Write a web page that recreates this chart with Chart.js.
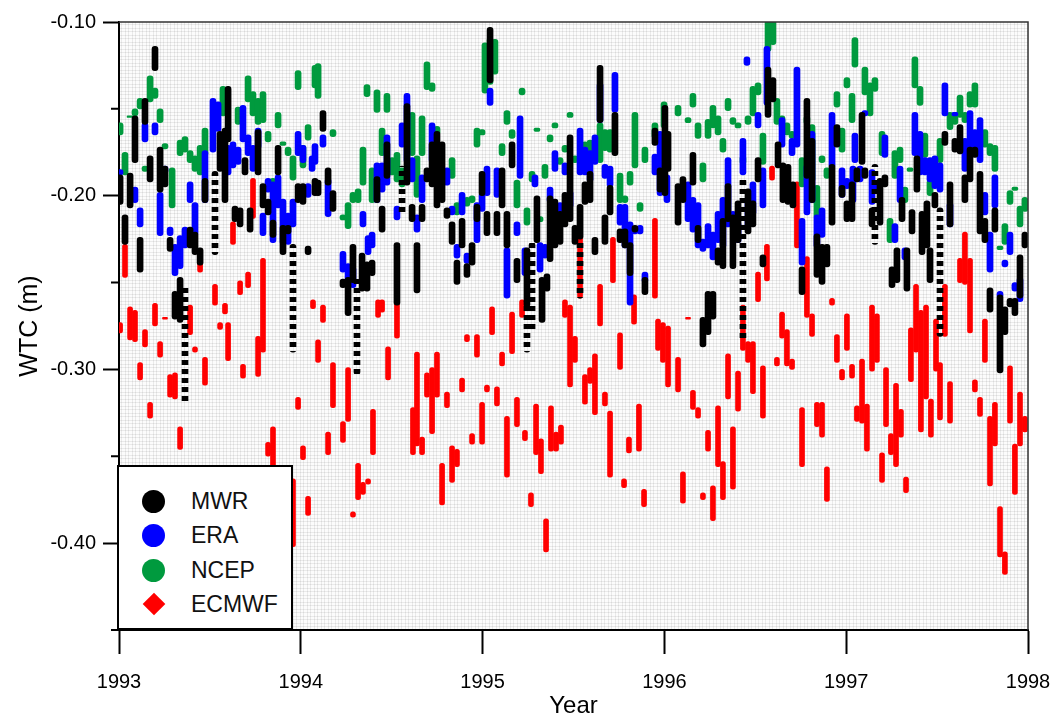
<!DOCTYPE html>
<html lang="en">
<head>
  <meta charset="UTF-8" />
  <title>WTC 1993-1998</title>
  <script src="https://cdn.jsdelivr.net/npm/chart.js"></script>
  <style>
    body { margin: 0; background: #fff; font-family: "Liberation Sans", Arial, sans-serif; }
    .wrap { position: relative; width: 1052px; height: 718px; }
    .legend { position: absolute; left: 117px; top: 465px; width: 172px; height: 161px; border: 2px solid #000; background: #fff; }
    .item { position: absolute; left: 0; height: 24px; display: flex; align-items: center; font-size: 23px; color: #111; }
    .mark { position: absolute; left: 23px; width: 23px; height: 23px; border-radius: 50%; }
    .diamond { left: 27px; width: 16px; height: 16px; border-radius: 0; transform: rotate(45deg); }
    .label { position: absolute; left: 72px; white-space: nowrap; }
  </style>
</head>
<body>
  <div class="wrap">
    <canvas id="wtc" width="1052" height="718"></canvas>
    <div class="legend">
      <div class="item" style="top:22px"><span class="mark" style="background:#000"></span><span class="label">MWR</span></div>
      <div class="item" style="top:56px"><span class="mark" style="background:#0000ff"></span><span class="label">ERA</span></div>
      <div class="item" style="top:91px"><span class="mark" style="background:#009a3e"></span><span class="label">NCEP</span></div>
      <div class="item" style="top:125px"><span class="mark diamond" style="background:#ff0000"></span><span class="label">ECMWF</span></div>
    </div>
  </div>
  <script>
    // axis ticks
    const years = [1993, 1994, 1995, 1996, 1997, 1998];
    const yMajor = [-0.10, -0.20, -0.30, -0.40];
    const yMinor = [-0.15, -0.25, -0.35, -0.45];

    // each streak: [year, top value, bottom value] in metres
    const mwr = [
      [1993.006,-0.188,-0.205],[1993.033,-0.211,-0.228],[1993.061,-0.187,-0.207],[1993.088,-0.154,-0.181],
      [1993.116,-0.224,-0.244],[1993.143,-0.144,-0.159],[1993.171,-0.177,-0.192],[1993.198,-0.114,-0.128],
      [1993.226,-0.172,-0.198],[1993.253,-0.183,-0.195],[1993.281,-0.224,-0.232],[1993.308,-0.255,-0.271],
      [1993.336,-0.247,-0.273],[1993.391,-0.218,-0.230],[1993.418,-0.221,-0.234],[1993.446,-0.230,-0.240],
      [1993.473,-0.190,-0.204],[1993.556,-0.163,-0.186],[1993.583,-0.161,-0.204],[1993.600,-0.137,-0.169],
      [1993.638,-0.206,-0.215],[1993.666,-0.207,-0.218],[1993.693,-0.178,-0.188],[1993.721,-0.207,-0.221],
      [1993.765,-0.162,-0.188],[1993.792,-0.193,-0.207],[1993.820,-0.202,-0.211],[1993.847,-0.214,-0.224],
      [1993.875,-0.171,-0.188],[1993.902,-0.217,-0.234],[1993.930,-0.217,-0.222],[1993.985,-0.193,-0.204],
      [1994.012,-0.193,-0.205],[1994.040,-0.229,-0.234],[1994.078,-0.190,-0.200],[1994.095,-0.191,-0.200],
      [1994.122,-0.151,-0.163],[1994.150,-0.184,-0.194],[1994.177,-0.197,-0.209],[1994.232,-0.248,-0.253],
      [1994.260,-0.247,-0.269],[1994.287,-0.228,-0.250],[1994.337,-0.233,-0.255],[1994.364,-0.238,-0.255],
      [1994.392,-0.237,-0.246],[1994.419,-0.189,-0.204],[1994.447,-0.206,-0.221],[1994.474,-0.169,-0.190],
      [1994.529,-0.227,-0.263],[1994.584,-0.147,-0.194],[1994.612,-0.205,-0.215],[1994.639,-0.227,-0.256],
      [1994.667,-0.205,-0.215],[1994.694,-0.184,-0.192],[1994.722,-0.169,-0.195],[1994.749,-0.163,-0.207],
      [1994.777,-0.169,-0.204],[1994.804,-0.207,-0.213],[1994.832,-0.215,-0.228],[1994.859,-0.237,-0.251],
      [1994.887,-0.213,-0.230],[1994.914,-0.239,-0.247],[1994.942,-0.227,-0.240],[1994.969,-0.205,-0.215],
      [1994.997,-0.186,-0.200],[1995.024,-0.209,-0.223],[1995.041,-0.103,-0.135],[1995.079,-0.209,-0.223],
      [1995.107,-0.184,-0.207],[1995.134,-0.209,-0.230],[1995.162,-0.169,-0.184],[1995.189,-0.236,-0.250],
      [1995.244,-0.230,-0.264],[1995.299,-0.200,-0.227],[1995.327,-0.247,-0.273],[1995.354,-0.245,-0.255],
      [1995.371,-0.200,-0.238],[1995.398,-0.202,-0.230],[1995.426,-0.209,-0.228],[1995.453,-0.198,-0.218],
      [1995.481,-0.165,-0.215],[1995.508,-0.217,-0.228],[1995.536,-0.205,-0.225],[1995.563,-0.192,-0.205],
      [1995.591,-0.186,-0.204],[1995.618,-0.224,-0.234],[1995.646,-0.125,-0.158],[1995.673,-0.211,-0.228],
      [1995.701,-0.194,-0.211],[1995.728,-0.152,-0.177],[1995.756,-0.219,-0.227],[1995.783,-0.219,-0.230],
      [1995.811,-0.227,-0.246],[1995.838,-0.217,-0.221],[1995.893,-0.247,-0.257],[1995.948,-0.161,-0.171],
      [1995.976,-0.184,-0.198],[1996.003,-0.148,-0.200],[1996.020,-0.163,-0.186],[1996.075,-0.193,-0.217],
      [1996.102,-0.189,-0.204],[1996.157,-0.175,-0.194],[1996.185,-0.217,-0.227],[1996.212,-0.270,-0.287],
      [1996.240,-0.255,-0.280],[1996.267,-0.255,-0.271],[1996.295,-0.230,-0.240],[1996.322,-0.213,-0.242],
      [1996.350,-0.193,-0.215],[1996.377,-0.211,-0.242],[1996.405,-0.203,-0.227],[1996.460,-0.196,-0.222],
      [1996.487,-0.203,-0.218],[1996.515,-0.178,-0.192],[1996.542,-0.234,-0.241],[1996.570,-0.126,-0.155],
      [1996.597,-0.132,-0.146],[1996.625,-0.169,-0.184],[1996.652,-0.181,-0.204],[1996.680,-0.182,-0.205],
      [1996.707,-0.192,-0.207],[1996.757,-0.241,-0.257],[1996.784,-0.144,-0.190],[1996.812,-0.167,-0.204],
      [1996.839,-0.222,-0.247],[1996.867,-0.228,-0.251],[1996.894,-0.228,-0.241],[1996.922,-0.182,-0.217],
      [1996.949,-0.159,-0.172],[1996.977,-0.194,-0.201],[1997.004,-0.203,-0.215],[1997.032,-0.192,-0.215],
      [1997.059,-0.184,-0.192],[1997.087,-0.152,-0.182],[1997.103,-0.184,-0.190],[1997.142,-0.207,-0.218],
      [1997.186,-0.190,-0.217],[1997.213,-0.188,-0.195],[1997.252,-0.241,-0.253],[1997.279,-0.230,-0.250],
      [1997.307,-0.201,-0.215],[1997.334,-0.230,-0.255],[1997.362,-0.208,-0.222],[1997.389,-0.177,-0.198],
      [1997.417,-0.209,-0.234],[1997.444,-0.203,-0.230],[1997.461,-0.230,-0.250],[1997.488,-0.198,-0.207],
      [1997.543,-0.163,-0.171],[1997.571,-0.192,-0.218],[1997.598,-0.167,-0.175],[1997.626,-0.159,-0.176],
      [1997.653,-0.188,-0.204],[1997.681,-0.172,-0.192],[1997.708,-0.172,-0.178],[1997.736,-0.186,-0.222],
      [1997.763,-0.213,-0.227],[1997.791,-0.253,-0.267],[1997.818,-0.207,-0.221],[1997.846,-0.257,-0.302],
      [1997.873,-0.264,-0.280],[1997.901,-0.259,-0.264],[1997.928,-0.259,-0.269],[1997.956,-0.234,-0.259],
      [1997.983,-0.221,-0.230]
    ];

    // MWR passes where the samples are spread out (drawn dotted)
    const mwrSparse = [
      [1993.363,-0.251,-0.320],[1993.528,-0.186,-0.234],[1993.957,-0.228,-0.290],[1994.309,-0.248,-0.303],
      [1994.557,-0.183,-0.211],[1995.244,-0.260,-0.290],[1995.272,-0.227,-0.278],[1995.536,-0.225,-0.259],
      [1996.432,-0.190,-0.283],[1997.158,-0.182,-0.228],[1997.516,-0.207,-0.281]
    ];

    const era = [
      [1993.006,-0.185,-0.188],[1993.088,-0.195,-0.204],[1993.116,-0.207,-0.218],[1993.143,-0.158,-0.169],
      [1993.198,-0.158,-0.165],[1993.226,-0.198,-0.223],[1993.253,-0.183,-0.187],[1993.281,-0.218,-0.223],
      [1993.308,-0.228,-0.246],[1993.336,-0.223,-0.242],[1993.363,-0.218,-0.230],[1993.391,-0.192,-0.204],
      [1993.418,-0.204,-0.223],[1993.473,-0.174,-0.204],[1993.517,-0.144,-0.175],[1993.545,-0.146,-0.163],
      [1993.600,-0.171,-0.188],[1993.627,-0.169,-0.184],[1993.655,-0.172,-0.182],[1993.682,-0.148,-0.169],
      [1993.710,-0.165,-0.177],[1993.737,-0.171,-0.186],[1993.765,-0.161,-0.173],[1993.792,-0.210,-0.223],
      [1993.820,-0.190,-0.198],[1993.847,-0.192,-0.227],[1993.875,-0.188,-0.207],[1993.902,-0.202,-0.228],
      [1993.930,-0.210,-0.228],[1993.957,-0.202,-0.218],[1993.985,-0.163,-0.177],[1994.012,-0.171,-0.181],
      [1994.040,-0.193,-0.201],[1994.062,-0.177,-0.186],[1994.078,-0.170,-0.182],[1994.122,-0.165,-0.172],
      [1994.150,-0.190,-0.212],[1994.232,-0.232,-0.244],[1994.260,-0.239,-0.250],[1994.287,-0.241,-0.253],
      [1994.342,-0.209,-0.218],[1994.370,-0.223,-0.234],[1994.392,-0.221,-0.230],[1994.419,-0.181,-0.204],
      [1994.447,-0.181,-0.198],[1994.474,-0.165,-0.194],[1994.529,-0.206,-0.214],[1994.557,-0.158,-0.172],
      [1994.584,-0.141,-0.181],[1994.612,-0.178,-0.192],[1994.639,-0.211,-0.221],[1994.667,-0.188,-0.204],
      [1994.722,-0.158,-0.181],[1994.777,-0.186,-0.195],[1994.804,-0.184,-0.194],[1994.832,-0.206,-0.211],
      [1994.859,-0.228,-0.236],[1994.887,-0.198,-0.211],[1994.914,-0.233,-0.239],[1994.969,-0.204,-0.227],
      [1994.997,-0.198,-0.209],[1995.024,-0.183,-0.200],[1995.041,-0.138,-0.148],[1995.079,-0.184,-0.201],
      [1995.134,-0.230,-0.259],[1995.189,-0.215,-0.223],[1995.206,-0.154,-0.190],[1995.233,-0.230,-0.246],
      [1995.288,-0.188,-0.195],[1995.316,-0.227,-0.244],[1995.343,-0.228,-0.236],[1995.371,-0.195,-0.204],
      [1995.398,-0.174,-0.186],[1995.426,-0.204,-0.219],[1995.453,-0.181,-0.188],[1995.481,-0.197,-0.207],
      [1995.536,-0.161,-0.188],[1995.563,-0.172,-0.188],[1995.591,-0.174,-0.192],[1995.618,-0.165,-0.182],
      [1995.646,-0.135,-0.158],[1995.673,-0.182,-0.190],[1995.701,-0.183,-0.195],[1995.728,-0.129,-0.152],
      [1995.756,-0.205,-0.217],[1995.783,-0.205,-0.230],[1995.811,-0.215,-0.263],[1995.838,-0.218,-0.222],
      [1995.866,-0.217,-0.222],[1995.893,-0.244,-0.250],[1995.948,-0.176,-0.188],[1995.976,-0.163,-0.200],
      [1996.014,-0.188,-0.204],[1996.130,-0.192,-0.215],[1996.157,-0.201,-0.221],[1996.185,-0.204,-0.230],
      [1996.212,-0.225,-0.232],[1996.240,-0.216,-0.230],[1996.267,-0.221,-0.237],[1996.295,-0.209,-0.227],
      [1996.322,-0.201,-0.230],[1996.350,-0.178,-0.218],[1996.377,-0.209,-0.217],[1996.405,-0.215,-0.227],
      [1996.432,-0.167,-0.188],[1996.454,-0.120,-0.125],[1996.460,-0.201,-0.218],[1996.487,-0.192,-0.211],
      [1996.515,-0.152,-0.161],[1996.542,-0.184,-0.207],[1996.564,-0.114,-0.148],[1996.647,-0.155,-0.172],
      [1996.702,-0.167,-0.177],[1996.729,-0.126,-0.172],[1996.757,-0.213,-0.240],[1996.784,-0.182,-0.211],
      [1996.812,-0.163,-0.204],[1996.839,-0.211,-0.230],[1996.867,-0.207,-0.224],[1996.922,-0.152,-0.184],
      [1996.977,-0.184,-0.201],[1997.004,-0.190,-0.196],[1997.037,-0.183,-0.204],[1997.048,-0.164,-0.181],
      [1997.076,-0.183,-0.192],[1997.103,-0.151,-0.154],[1997.142,-0.185,-0.205],[1997.158,-0.192,-0.198],
      [1997.213,-0.165,-0.178],[1997.268,-0.216,-0.227],[1997.296,-0.183,-0.204],[1997.323,-0.230,-0.237],
      [1997.378,-0.152,-0.177],[1997.406,-0.163,-0.188],[1997.433,-0.178,-0.188],[1997.461,-0.178,-0.192],
      [1997.488,-0.177,-0.196],[1997.516,-0.181,-0.198],[1997.543,-0.135,-0.154],[1997.571,-0.204,-0.218],
      [1997.598,-0.152,-0.154],[1997.653,-0.167,-0.186],[1997.681,-0.151,-0.172],[1997.708,-0.162,-0.177],
      [1997.736,-0.155,-0.181],[1997.763,-0.198,-0.211],[1997.791,-0.221,-0.244],[1997.818,-0.188,-0.207],
      [1997.846,-0.255,-0.259],[1997.873,-0.237,-0.241],[1997.901,-0.221,-0.234],[1997.928,-0.250,-0.255],
      [1997.956,-0.247,-0.261]
    ];

    const ncep = [
      [1993.006,-0.158,-0.165],[1993.033,-0.175,-0.188],[1993.061,-0.154,-0.155],[1993.088,-0.150,-0.154],
      [1993.116,-0.144,-0.150],[1993.143,-0.183,-0.186],[1993.171,-0.131,-0.146],[1993.198,-0.138,-0.144],
      [1993.226,-0.150,-0.158],[1993.253,-0.170,-0.173],[1993.292,-0.184,-0.207],[1993.336,-0.168,-0.177],
      [1993.363,-0.166,-0.175],[1993.391,-0.174,-0.181],[1993.418,-0.177,-0.186],[1993.446,-0.171,-0.188],
      [1993.473,-0.161,-0.177],[1993.572,-0.137,-0.154],[1993.655,-0.149,-0.159],[1993.710,-0.131,-0.146],
      [1993.737,-0.140,-0.154],[1993.765,-0.144,-0.159],[1993.792,-0.140,-0.158],[1993.820,-0.163,-0.169],
      [1993.847,-0.190,-0.194],[1993.875,-0.152,-0.161],[1993.902,-0.169,-0.171],[1993.930,-0.172,-0.177],
      [1993.957,-0.177,-0.191],[1993.985,-0.128,-0.139],[1994.012,-0.171,-0.184],[1994.040,-0.159,-0.168],
      [1994.078,-0.125,-0.138],[1994.095,-0.124,-0.144],[1994.177,-0.162,-0.166],[1994.232,-0.211,-0.214],
      [1994.260,-0.204,-0.219],[1994.287,-0.198,-0.204],[1994.315,-0.196,-0.204],[1994.342,-0.172,-0.194],
      [1994.364,-0.136,-0.143],[1994.392,-0.184,-0.204],[1994.419,-0.139,-0.152],[1994.447,-0.161,-0.177],
      [1994.474,-0.141,-0.152],[1994.502,-0.178,-0.188],[1994.529,-0.175,-0.192],[1994.557,-0.184,-0.195],
      [1994.584,-0.161,-0.169],[1994.612,-0.152,-0.177],[1994.639,-0.177,-0.201],[1994.667,-0.154,-0.177],
      [1994.694,-0.123,-0.139],[1994.722,-0.135,-0.140],[1994.749,-0.160,-0.165],[1994.832,-0.178,-0.190],
      [1994.859,-0.204,-0.211],[1994.887,-0.202,-0.207],[1994.914,-0.201,-0.206],[1994.942,-0.200,-0.204],
      [1994.969,-0.161,-0.172],[1994.997,-0.162,-0.165],[1995.013,-0.112,-0.141],[1995.041,-0.109,-0.136],
      [1995.068,-0.110,-0.130],[1995.107,-0.170,-0.177],[1995.134,-0.151,-0.159],[1995.162,-0.162,-0.167],
      [1995.189,-0.191,-0.207],[1995.217,-0.138,-0.142],[1995.244,-0.207,-0.217],[1995.272,-0.186,-0.192],
      [1995.299,-0.161,-0.163],[1995.316,-0.212,-0.215],[1995.343,-0.182,-0.190],[1995.371,-0.165,-0.169],
      [1995.398,-0.158,-0.161],[1995.426,-0.178,-0.182],[1995.453,-0.171,-0.175],[1995.481,-0.152,-0.155],
      [1995.508,-0.177,-0.181],[1995.563,-0.169,-0.181],[1995.591,-0.168,-0.179],[1995.618,-0.169,-0.181],
      [1995.646,-0.158,-0.181],[1995.673,-0.162,-0.174],[1995.701,-0.162,-0.175],[1995.756,-0.187,-0.204],
      [1995.783,-0.200,-0.204],[1995.811,-0.186,-0.194],[1995.838,-0.152,-0.184],[1995.866,-0.204,-0.209],
      [1995.893,-0.172,-0.181],[1995.948,-0.158,-0.167],[1995.998,-0.146,-0.161],[1996.075,-0.148,-0.154],
      [1996.130,-0.155,-0.158],[1996.157,-0.141,-0.149],[1996.185,-0.158,-0.167],[1996.212,-0.181,-0.192],
      [1996.240,-0.156,-0.167],[1996.267,-0.148,-0.161],[1996.295,-0.154,-0.165],[1996.322,-0.167,-0.175],
      [1996.350,-0.144,-0.151],[1996.377,-0.155,-0.159],[1996.405,-0.158,-0.161],[1996.432,-0.177,-0.182],
      [1996.460,-0.154,-0.159],[1996.487,-0.137,-0.154],[1996.515,-0.135,-0.142],[1996.542,-0.164,-0.182],
      [1996.570,-0.099,-0.117],[1996.597,-0.099,-0.113],[1996.619,-0.144,-0.159],[1996.647,-0.154,-0.161],
      [1996.674,-0.158,-0.165],[1996.702,-0.163,-0.167],[1996.757,-0.178,-0.195],[1996.784,-0.154,-0.159],
      [1996.812,-0.159,-0.192],[1996.839,-0.194,-0.213],[1996.867,-0.177,-0.181],[1996.894,-0.184,-0.190],
      [1996.949,-0.140,-0.149],[1996.977,-0.161,-0.175],[1997.004,-0.132,-0.138],[1997.032,-0.141,-0.158],
      [1997.048,-0.109,-0.126],[1997.103,-0.126,-0.142],[1997.131,-0.135,-0.154],[1997.158,-0.132,-0.140],
      [1997.197,-0.163,-0.177],[1997.241,-0.213,-0.227],[1997.268,-0.174,-0.190],[1997.296,-0.172,-0.181],
      [1997.323,-0.195,-0.204],[1997.351,-0.184,-0.186],[1997.378,-0.120,-0.138],[1997.406,-0.137,-0.148],
      [1997.433,-0.164,-0.178],[1997.461,-0.191,-0.200],[1997.516,-0.167,-0.181],[1997.571,-0.152,-0.162],
      [1997.598,-0.152,-0.159],[1997.626,-0.142,-0.155],[1997.653,-0.152,-0.158],[1997.681,-0.140,-0.149],
      [1997.708,-0.135,-0.149],[1997.763,-0.162,-0.172],[1997.791,-0.170,-0.177],[1997.818,-0.171,-0.186],
      [1997.846,-0.229,-0.231],[1997.873,-0.216,-0.228],[1997.901,-0.197,-0.205],[1997.928,-0.195,-0.197],
      [1997.956,-0.206,-0.218],[1997.983,-0.201,-0.209]
    ];

    const ecmwf = [
      [1993.006,-0.273,-0.279],[1993.033,-0.228,-0.247],[1993.061,-0.264,-0.283],[1993.088,-0.266,-0.284],
      [1993.116,-0.296,-0.306],[1993.143,-0.277,-0.287],[1993.171,-0.319,-0.328],[1993.198,-0.262,-0.275],
      [1993.226,-0.284,-0.293],[1993.253,-0.270,-0.271],[1993.281,-0.303,-0.316],[1993.308,-0.302,-0.317],
      [1993.336,-0.333,-0.346],[1993.391,-0.263,-0.280],[1993.418,-0.287,-0.290],[1993.446,-0.238,-0.244],
      [1993.473,-0.293,-0.309],[1993.528,-0.251,-0.263],[1993.556,-0.273,-0.277],[1993.583,-0.262,-0.268],
      [1993.600,-0.273,-0.295],[1993.627,-0.215,-0.228],[1993.666,-0.249,-0.257],[1993.682,-0.297,-0.305],
      [1993.710,-0.244,-0.253],[1993.737,-0.190,-0.213],[1993.765,-0.281,-0.304],[1993.792,-0.236,-0.290],
      [1993.820,-0.342,-0.350],[1993.847,-0.333,-0.373],[1993.875,-0.379,-0.392],[1993.902,-0.371,-0.392],
      [1993.930,-0.363,-0.371],[1993.957,-0.363,-0.402],[1993.985,-0.316,-0.323],[1994.012,-0.344,-0.352],
      [1994.040,-0.373,-0.384],[1994.067,-0.260,-0.265],[1994.095,-0.283,-0.296],[1994.122,-0.263,-0.273],
      [1994.150,-0.336,-0.349],[1994.177,-0.296,-0.322],[1994.232,-0.330,-0.342],[1994.260,-0.299,-0.330],
      [1994.287,-0.382,-0.385],[1994.315,-0.354,-0.375],[1994.342,-0.365,-0.372],[1994.370,-0.363,-0.366],
      [1994.397,-0.323,-0.349],[1994.425,-0.260,-0.270],[1994.447,-0.260,-0.267],[1994.480,-0.287,-0.306],
      [1994.529,-0.260,-0.282],[1994.617,-0.322,-0.349],[1994.639,-0.290,-0.344],[1994.667,-0.339,-0.349],
      [1994.694,-0.302,-0.316],[1994.722,-0.299,-0.337],[1994.749,-0.290,-0.316],[1994.777,-0.354,-0.378],
      [1994.804,-0.313,-0.322],[1994.832,-0.344,-0.365],[1994.859,-0.346,-0.356],[1994.887,-0.305,-0.313],
      [1994.914,-0.280,-0.284],[1994.942,-0.337,-0.343],[1994.969,-0.280,-0.293],[1994.997,-0.319,-0.343],
      [1995.024,-0.309,-0.313],[1995.052,-0.264,-0.280],[1995.079,-0.310,-0.321],[1995.107,-0.290,-0.298],
      [1995.134,-0.327,-0.362],[1995.162,-0.267,-0.291],[1995.189,-0.316,-0.333],[1995.217,-0.260,-0.270],
      [1995.233,-0.335,-0.341],[1995.266,-0.371,-0.379],[1995.294,-0.320,-0.349],[1995.321,-0.340,-0.360],
      [1995.349,-0.386,-0.405],[1995.376,-0.321,-0.347],[1995.404,-0.336,-0.347],[1995.431,-0.332,-0.343],
      [1995.453,-0.260,-0.270],[1995.481,-0.263,-0.310],[1995.508,-0.281,-0.296],[1995.536,-0.221,-0.259],
      [1995.563,-0.303,-0.320],[1995.591,-0.299,-0.308],[1995.618,-0.291,-0.326],[1995.646,-0.251,-0.275],
      [1995.673,-0.313,-0.321],[1995.701,-0.324,-0.362],[1995.717,-0.224,-0.250],[1995.756,-0.279,-0.300],
      [1995.778,-0.363,-0.368],[1995.805,-0.339,-0.348],[1995.833,-0.257,-0.274],[1995.860,-0.320,-0.347],
      [1995.888,-0.369,-0.379],[1995.948,-0.213,-0.259],[1995.965,-0.271,-0.289],[1995.992,-0.273,-0.296],
      [1996.020,-0.275,-0.310],[1996.075,-0.293,-0.313],[1996.102,-0.359,-0.377],[1996.130,-0.270,-0.271],
      [1996.157,-0.312,-0.323],[1996.185,-0.322,-0.328],[1996.212,-0.371,-0.375],[1996.240,-0.335,-0.347],
      [1996.267,-0.367,-0.387],[1996.295,-0.321,-0.356],[1996.322,-0.353,-0.375],[1996.350,-0.291,-0.317],
      [1996.377,-0.333,-0.369],[1996.405,-0.301,-0.324],[1996.432,-0.263,-0.289],[1996.460,-0.284,-0.296],
      [1996.487,-0.284,-0.314],[1996.515,-0.244,-0.261],[1996.542,-0.298,-0.328],[1996.564,-0.228,-0.249],
      [1996.592,-0.183,-0.191],[1996.619,-0.293,-0.298],[1996.647,-0.267,-0.282],[1996.674,-0.277,-0.298],
      [1996.702,-0.294,-0.300],[1996.729,-0.192,-0.230],[1996.757,-0.322,-0.356],[1996.784,-0.235,-0.270],
      [1996.812,-0.268,-0.281],[1996.839,-0.319,-0.333],[1996.867,-0.319,-0.339],[1996.894,-0.356,-0.376],
      [1996.922,-0.259,-0.263],[1996.949,-0.280,-0.296],[1996.977,-0.300,-0.306],[1997.004,-0.268,-0.289],
      [1997.032,-0.297,-0.305],[1997.059,-0.321,-0.330],[1997.087,-0.294,-0.331],[1997.114,-0.320,-0.347],
      [1997.142,-0.263,-0.301],[1997.169,-0.268,-0.296],[1997.197,-0.348,-0.365],[1997.219,-0.299,-0.333],
      [1997.246,-0.337,-0.349],[1997.274,-0.308,-0.356],[1997.301,-0.323,-0.339],[1997.329,-0.362,-0.371],
      [1997.356,-0.276,-0.307],[1997.384,-0.251,-0.290],[1997.411,-0.266,-0.336],[1997.439,-0.263,-0.317],
      [1997.466,-0.317,-0.339],[1997.494,-0.271,-0.301],[1997.516,-0.296,-0.329],[1997.543,-0.251,-0.281],
      [1997.571,-0.307,-0.331],[1997.626,-0.236,-0.250],[1997.653,-0.221,-0.251],[1997.681,-0.236,-0.279],
      [1997.708,-0.306,-0.313],[1997.736,-0.316,-0.327],[1997.763,-0.271,-0.296],[1997.791,-0.327,-0.367],
      [1997.818,-0.319,-0.344],[1997.846,-0.379,-0.408],[1997.873,-0.405,-0.418],[1997.901,-0.298,-0.331],
      [1997.928,-0.343,-0.372],[1997.956,-0.313,-0.344],[1997.983,-0.327,-0.336]
    ];

    const FONT = '"Liberation Sans", Arial, sans-serif';

    // turn [year, top, bottom] rows into floating bars
    const toBars = rows => rows.map(r => ({ x: r[0], y: [r[2], r[1]] }));

    const canvas = document.getElementById('wtc');
    const ctx = canvas.getContext('2d');

    // horizontal stripes so the sparse MWR passes look dotted
    const dotTile = document.createElement('canvas');
    dotTile.width = 1; dotTile.height = 9;
    const dt = dotTile.getContext('2d');
    dt.fillStyle = '#000';
    dt.fillRect(0, 0, 1, 5);
    const dotPattern = ctx.createPattern(dotTile, 'repeat');

    const bar = (label, rows, color, width) => ({
      label: label,
      data: toBars(rows),
      backgroundColor: color,
      borderWidth: 0,
      borderRadius: width / 2,
      borderSkipped: false,
      barThickness: width,
      grouped: false
    });

    // fine grey hatching behind the data, like the original plot background
    const plotBackground = {
      id: 'plotBackground',
      beforeDraw(chart) {
        const { ctx, chartArea: a } = chart;
        ctx.save();
        ctx.fillStyle = '#fcfcfc';
        ctx.fillRect(a.left, a.top, a.right - a.left, a.bottom - a.top);
        ctx.strokeStyle = 'rgba(0,0,0,0.07)';
        ctx.lineWidth = 1;
        ctx.beginPath();
        for (let x = a.left + 2; x < a.right; x += 3.5) {
          const px = Math.round(x) + 0.5;
          ctx.moveTo(px, a.top); ctx.lineTo(px, a.bottom);
        }
        for (let y = a.top + 2; y < a.bottom; y += 3.5) {
          const py = Math.round(y) + 0.5;
          ctx.moveTo(a.left, py); ctx.lineTo(a.right, py);
        }
        ctx.stroke();
        ctx.restore();
      }
    };

    // top/right frame and the short minor ticks on the y axis
    const frameAndMinor = {
      id: 'frameAndMinor',
      afterDraw(chart) {
        const { ctx, chartArea: a } = chart;
        const ys = chart.scales.y;
        ctx.save();
        ctx.strokeStyle = '#333';
        ctx.lineWidth = 1.5;
        ctx.beginPath();
        ctx.moveTo(a.left, a.top); ctx.lineTo(a.right, a.top); ctx.lineTo(a.right, a.bottom);
        ctx.stroke();
        ctx.strokeStyle = '#000';
        ctx.lineWidth = 2;
        ctx.beginPath();
        yMinor.forEach(v => {
          const py = ys.getPixelForValue(v);
          ctx.moveTo(a.left - 8, py); ctx.lineTo(a.left, py);
        });
        ctx.stroke();
        ctx.restore();
      }
    };

    new Chart(ctx, {
      type: 'bar',
      data: {
        datasets: [
          bar('MWR', mwr, '#000000', 6),
          bar('MWR sparse', mwrSparse, dotPattern, 6),
          bar('ERA', era, '#0000ff', 6),
          bar('NCEP', ncep, '#009a3e', 6),
          bar('ECMWF', ecmwf, '#ff0000', 5)
        ]
      },
      options: {
        responsive: false,
        animation: false,
        events: [],
        layout: { padding: { top: 22, right: 24, left: 0, bottom: 0 } },
        plugins: { legend: { display: false }, tooltip: { enabled: false } },
        scales: {
          x: {
            type: 'linear',
            min: 1993,
            max: 1998,
            offset: false,
            afterBuildTicks: s => { s.ticks = years.map(v => ({ value: v })); },
            afterFit: s => { s.height = 88; s.paddingLeft = 0; s.paddingRight = 0; },
            grid: { offset: false, drawOnChartArea: false, drawTicks: true, tickLength: 24, tickColor: '#000', tickWidth: 2 },
            border: { display: true, color: '#000', width: 2 },
            ticks: { color: '#000', padding: 16, maxRotation: 0, font: { family: FONT, size: 20 }, callback: v => String(v) },
            title: { display: true, text: 'Year', color: '#000', font: { family: FONT, size: 24, lineHeight: 1 }, padding: { top: 0, bottom: 0 } }
          },
          y: {
            min: -0.45,
            max: -0.10,
            beginAtZero: false,
            afterBuildTicks: s => { s.ticks = yMajor.map(v => ({ value: v })); },
            afterFit: s => { s.width = 119; },
            grid: { drawOnChartArea: false, drawTicks: true, tickLength: 16, tickColor: '#000', tickWidth: 2 },
            border: { display: true, color: '#000', width: 2 },
            ticks: { color: '#000', padding: 7, font: { family: FONT, size: 20 }, callback: v => v.toFixed(2) },
            title: { display: true, text: 'WTC (m)', color: '#000', font: { family: FONT, size: 25 }, padding: { top: 15, bottom: 0 } }
          }
        }
      },
      plugins: [plotBackground, frameAndMinor]
    });
  </script>
</body>
</html>
